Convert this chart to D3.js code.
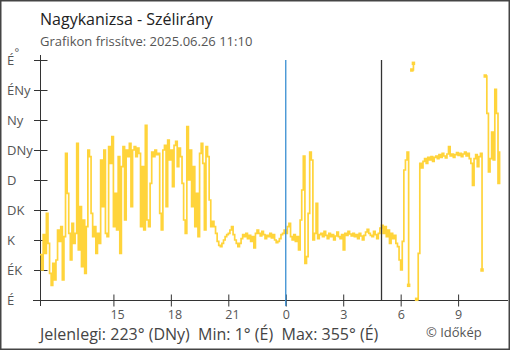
<!DOCTYPE html>
<html>
<head>
<meta charset="utf-8">
<script src="https://cdn.jsdelivr.net/npm/d3@7"></script>
<style>
  html, body { margin: 0; padding: 0; background: #fff; }
  svg { display: block; font-family: "Open Sans", sans-serif; }
</style>
</head>
<body>
<svg id="chart" width="510" height="350"></svg>
<script>
// Szélirány, 5 perces mérések 2025.06.25 11:10 – 2025.06.26 11:10 (fok), null = megszakítás
const titleText = "Nagykanizsa - Szélirány";
const subtitleText = "Grafikon frissítve: 2025.06.26 11:10";
const footerText = "Jelenlegi: 223° (DNy)  Min: 1° (É)  Max: 355° (É)";
const creditText = "© Időkép";

const startTime = new Date(2025, 5, 25, 11, 10);
const endTime = new Date(2025, 5, 26, 11, 10);
const stepMinutes = 5;

const directions = [
  68, 45, 98, 70, 130, 85, 40, 22, 55, 30,
  60, 105, 88, 110, 30, 95, 220, 160, 100, 60,
  115, 85, 100, 235, 75, 140, 50, 120, 40, 110,
  225, 215, 130, 95, 110, 70, 100, 85, 210, 140,
  225, 100, 95, 230, 205, 245, 110, 160, 105, 215,
  70, 200, 230, 120, 225, 215, 235, 140, 225, 230,
  215, 228, 220, 110, 200, 105, 262, 120, 110, 175,
  222, 215, 225, 218, 220, 130, 105, 225, 232, 140,
  240, 210, 225, 170, 232, 238, 200, 228, 215, 175,
  120, 100, 260, 180, 225, 140, 200, 110, 160, 95,
  220, 235, 205, 105, 230, 215, 150, 110, 118, 110,
  100, 88, 82, 80, 85, 90, 95, 98, 100, 105,
  110, 98, 90, 85, 80, 85, 92, 98, 95, 100,
  92, 97, 88, 95, 78, 100, 105, 100, 96, 103,
  98, 92, 97, 95, 100, 93, 98, 90, 86, 88,
  92, 98, 100, 105, 100, 110, 115, 95, 90, 98,
  88, 95, 75, 120, 165, 216, 55, 65, 130, 222,
  210, 90, 100, 145, 92, 98, 100, 95, 103, 97,
  92, 100, 95, 98, 90, 96, 102, 95, 92, 98,
  75, 100, 97, 103, 99, 96, 100, 95, 98, 92,
  100, 96, 90, 97, 102, 106, 100, 97, 95, 103,
  98, 92, 100, 108, 112, 100, 110, 95, 105, 85,
  100, 92, 97, 85, 80, 60, 45, 88, 195, 210,
  222, 22, null, 345, 355, null, 1, 70, 205, 198,
  208, 212, 205, 214, 210, 215, 208, 214, 216, 212,
  218, 214, 220, 216, 213, 219, 230, 216, 219, 214,
  218, 221, 217, 220, 215, 219, 222, 216, 220, 212,
  205, 172, 212, 218, 200, 215, 220, 45, null, 336,
  280, 192, 212, 252, 210, 316, 280, 175, 223
];

const dirTicks = [0, 45, 90, 135, 180, 225, 270, 315, 360];
const dirLabels = ["É", "ÉK", "K", "DK", "D", "DNy", "Ny", "ÉNy", "É"];
const hourTicks = [15, 18, 21, 0, 3, 6, 9];
const midnight = new Date(2025, 5, 26, 0, 0);
const sunrise = new Date(2025, 5, 26, 5, 0);

const svg = d3.select("#chart");

const x = d3.scaleTime().domain([startTime, endTime]).range([40, 499.6]);
const y = d3.scaleLinear().domain([0, 360]).range([300, 60]);

const points = directions.map((v, i) => ({
  t: new Date(startTime.getTime() + i * stepMinutes * 60000),
  v: v,
  i: i
}));

// keret
svg.append("rect")
  .attr("x", 0.75).attr("y", 0.75)
  .attr("width", 508.5).attr("height", 348.5)
  .attr("fill", "none").attr("stroke", "#444").attr("stroke-width", 1.5);

// címek
svg.append("text").attr("x", 40).attr("y", 25)
  .attr("font-size", 16).attr("fill", "#222").text(titleText);
svg.append("text").attr("x", 40).attr("y", 45.5)
  .attr("font-size", 13).attr("fill", "#555").text(subtitleText);

// y tengely
const yAxis = svg.append("g").attr("transform", "translate(40.5,0)")
  .call(d3.axisLeft(y).tickValues(dirTicks)
    .tickFormat((d, i) => dirLabels[i]).tickSizeOuter(0));
yAxis.select(".domain").remove();
yAxis.selectAll(".tick line").attr("x1", -6.5).attr("x2", 7).attr("stroke", "#333");
yAxis.selectAll(".tick text")
  .attr("x", -33.5).attr("text-anchor", "start")
  .attr("font-family", "Open Sans, sans-serif")
  .attr("font-size", 13).attr("fill", "#555");
svg.append("line")
  .attr("x1", 40.5).attr("x2", 40.5).attr("y1", 55).attr("y2", 306)
  .attr("stroke", "#333");
svg.append("text").attr("x", 14.5).attr("y", 55.5)
  .attr("font-size", 11).attr("fill", "#555").text("°");

// x tengely
const tickDates = hourTicks.map(h =>
  new Date(2025, 5, h >= 12 ? 25 : 26, h, 0));
const xAxis = svg.append("g").attr("transform", "translate(0,300.5)")
  .call(d3.axisBottom(x).tickValues(tickDates)
    .tickFormat(d => String(d.getHours())).tickSizeOuter(0));
xAxis.select(".domain").remove();
xAxis.selectAll(".tick line").attr("y1", -6).attr("y2", 6).attr("stroke", "#333");
xAxis.selectAll(".tick text")
  .attr("y", 18).attr("dy", 0).attr("x", -3.5).attr("text-anchor", "start")
  .attr("font-family", "Open Sans, sans-serif")
  .attr("font-size", 12.5).attr("fill", "#555");
svg.append("line")
  .attr("x1", 33).attr("x2", 508).attr("y1", 300.5).attr("y2", 300.5)
  .attr("stroke", "#333");

// adatsor (lépcsős vonal)
const line = d3.line()
  .defined(d => d.v !== null)
  .x(d => x(d.t))
  .y(d => y(d.v))
  .curve(d3.curveStepAfter);

svg.append("path")
  .datum(points)
  .attr("d", line)
  .attr("fill", "none")
  .attr("stroke", "#ffd43b")
  .attr("stroke-width", 1.7);

// szakaszvégek a megszakítások mellett
const ends = points.filter(d => d.v !== null && (
  (d.i > 0 && directions[d.i - 1] === null) ||
  (d.i < directions.length - 1 && directions[d.i + 1] === null)));
svg.selectAll("rect.end").data(ends).enter().append("rect")
  .attr("class", "end")
  .attr("x", d => x(d.t) - 1.75).attr("y", d => y(d.v) - 1.75)
  .attr("width", 3.5).attr("height", 3.5)
  .attr("fill", "#ffd43b");

// éjfél és napkelte jelölése
svg.append("line")
  .attr("x1", x(midnight)).attr("x2", x(midnight)).attr("y1", 60).attr("y2", 306)
  .attr("stroke", "#3a8fd2").attr("stroke-width", 1.3);
svg.append("line")
  .attr("x1", x(sunrise)).attr("x2", x(sunrise)).attr("y1", 60).attr("y2", 300)
  .attr("stroke", "#333").attr("stroke-width", 1.3);

// lábléc
svg.append("text").attr("x", 40).attr("y", 339.5)
  .attr("font-size", 16).attr("fill", "#444")
  .style("white-space", "pre").text(footerText);
svg.append("text").attr("x", 426).attr("y", 336.5)
  .attr("font-size", 13).attr("fill", "#555").text(creditText);
</script>
</body>
</html>
